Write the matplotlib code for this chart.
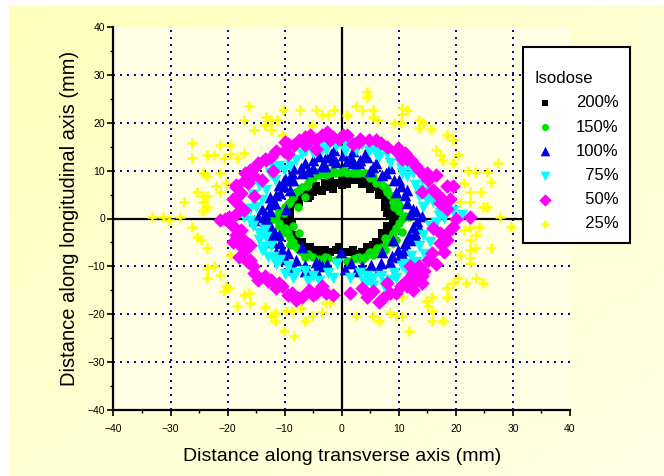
import numpy as np
import matplotlib.pyplot as plt
from matplotlib.ticker import MultipleLocator

plt.rcParams['font.family'] = ['Liberation Sans', 'DejaVu Sans']

# Isodose contour points (mm)
iso_200_x = [-1, 0, 1, 2, 3, 4, 5, -2, -3, -4, -5, -6, -7, -8, -9, -10, -10.5, -10, -9.5, -9,
             -8.5, -7.5, -6.5, -5, -4, -3, -2, -1, 0.5, 1.5, 2.5, 3.5, 4.5, 5.5, 6.5, 7, 8, 8.5,
             9, 9, 8.5, 8, 7.5, 7.5, 7, 6.5, 6, 5.5, 0, 3, -4.5, -6.5, -8.5, -9.5, -11, -10.5,
             -8, -6, -4, 0, 3, 5, 6, 8.5, 9.5, 9.5, 8, 8, 1.5, 2.5, 4, -2, -3,
             -6, -7.5, -9, -9.5, -9, -8, -7, -5.5, 6, 7, 8, 8, 7.5, 6.5, 5, 3.5, 1, -1.5,
             -3.5, -5.5, 2, 4.5, -0.5, -8.8, 8.8]
iso_200_y = [7.5, 8, 8.5, 8, 8, 7.5, 7, 7, 6.5, 6, 5.5, 5, 4.5, 3, 2, 1, 0, -1, -2, -3,
             -4, -5, -6, -6.5, -6.5, -6.5, -7, -6.5, -7, -7, -7.5, -7, -6.5, -5.5, -5, -4, -3, -2,
             -1, 0, 1, 2, 3, 4, 5, 6, 6.5, 7, 7, 8.5, 6.8, 5.8, 3.8, 1.5, 0.3, -1.5,
             -5, -7, -7.5, -7.5, -8, -7, -6, -3.5, -0.5, 0.8, 3.5, 5, 9, 8.8, 8.3, 8, 7.5,
             4.2, 3.5, 1, -0.5, -2, -3.5, -5, -6, -5, -3, -1.5, 1.2, 2.5, 5, 6.2, 7.2, 7.2, 6.2,
             5.8, 4.8, -6.5, -6, -6, -1, -2.5]

iso_150_x = [-5, -4, -3, -2, -1, 0, 1, 2, 3, 4, 5, 6, -6, -7, -8, -8.5, -9, -10, -11, -11.5,
             -12, -11, -10, -9.5, -9, -8.5, -8, -7, -6, -5, -4, -3, 2, 3, 4, 5, 6, 7, 8, 8.5,
             9, 9.5, 10, 10.5, 11, 10, 9.5, 9, 8.5, 8, 7, -7.5, -8.5, 7.5, 9.5, -6.5, -7.6,
             -10.2, -2.4, 2.5, 4.7, 6.2, 11.7, 9.1, 8, 6.2, 4.7, 2.5, -0.1, -2.7, -6.1,
             -4.5, -1.5, 0.5, 2.5, 4.5, 5.5, -5.5, -7.5, -9.5, -10.5, -11, -10.5, -9, -7.5,
             -6.5, -3.5, -1, 1, 3.5, 5.5, 7.5, 9, 10.5, 10, 9.5, 7.5]
iso_150_y = [8.5, 9, 9.5, 9.5, 9.5, 10, 9.5, 9.5, 9.5, 9.5, 8.5, 7.5, 7.5, 6.5, 5.5, 4.5, 3.5, 2.5, 1.5, 0.5,
             0, -1, -2, -3, -4, -5, -6, -7, -7.5, -8, -8.5, -8, -8.5, -8, -8, -7, -6.5, -6, -5, -4,
             -3, -2, -1, 0, 0.5, 1.5, 2.5, 3.5, 5, 6, 7, -3, -1.5, -4, -4.5, 4.5, 2.5,
             1.1, -8.3, -8.3, -7.2, -6.2, 0.4, 2.5, 5.6, 7.7, 8.8, 9.4, 9.8, 9.1, 6.7,
             9.8, 10, 10, 10.2, 9.3, 8.8, 8.5, 6, 3, 1.5, -1.5, -3, -5.5, -6.5,
             -8, -8.8, -8.6, -8.8, -8.6, -7.6, -6.6, -5.2, -2.8, 2.8, 4.2, 6.5]

iso_100_x = [0.2, -2.7, -5, -7.2, -8.7, -10.2, -10.9, -11.7, -14.6, -15.4, -12.4, -11.7, -10.9, -9.4,
             -8, -6.5, -4.6, -3.5, -0.1, 1.7, 3.6, 5.1, 6.9, 8.8, 9.9, 11, 11.7, 12.5, 13.2,
             11.4, 11, 10.3, 9.1, 7.7, 5.4, 3.2, 1.7, -1.3, -9, -6, 7, -7, -12.5, -13, -12,
             -3.5, 2, 12, 13, 10, -8.5, -11, 4.5, -1.5, 9.5, -9.8, 12.8, -4,
             -1, 1, 3, 5, 7, -3, -5, -7, -9, -10, -11.5, -12.5, -13.5, -13, -12.5, -11.5, -10,
             -8.5, -6.5, -4.5, -2.5, 0.5, 2.5, 4.5, 6.5, 8.5, 10.5, 12, 13.5, 14, 12.5, 11.5,
             10, 8.5, 6, 4, 2, -1.8, -4, -6.5, -8.5, -10, -11, -12.5, -14, -13.5, -10.5, 13,
             11, 9]
iso_100_y = [13.3, 12.9, 12.2, 10.5, 9.4, 6.7, 5.3, 3.2, 0.4, -0.3, -1.7, -3.1, -5.1, -7.2,
             -8.6, -9.7, -10.7, -10, -6.9, -9.3, -10, -9.7, -9.3, -7.9, -6.5, -5.1, -3.4, -1.7, -0.6,
             3.2, 4.9, 6.7, 8.1, 9.4, 10.8, 12.2, 12.9, 14.3, 6, 10, -7, -6, 1.5, -1, -5,
             11, 11.5, 1, 1.5, -8, 8, -3.5, 12.8, 12.3, 5.5, 2, -3, -9.5,
             11.8, 12, 11.5, 10, 9, 11, 10.5, 9.5, 8, 8, 5, 3, 1, -2.5, -4.5, -7, -8.5,
             -10.5, -11, -9, -9.5, -10.5, -11, -11.5, -10.5, -9, -7.5, -4.5, -2, 0.5, 2, 6,
             8, 10.5, 11.5, 13.5, 14, 13.5, 13, 11.5, 10.5, 8.5, 7, 4.5, 2, -0.5, -6.5, -4,
             -6.5, -4.5]

iso_75_x = [1, 2.5, -2.7, -5, -8, -10.2, -11.7, -13.2, -13.9, -17.2, -16.1, -13.5, -13.2, -12.4,
            -10.9, -9.4, -8, -6.5, -5, -2.4, 3.2, 3.9, 5.4, 6.9, 9.1, 10.6, 12.1, 13.6, 14.3,
            16.6, 18, 21, 14.3, 13.6, 12.9, 11.4, 10.3, 8.4, 6.5, 4.7, 15, 17.3, -15, -14.5,
            -12, -7, -3.5, 0.5, 6, 11, 13, 15.5, -9, -15.5, 4.5, 8.5, 12.5, -0.8,
            -1, -4, -6.5, -9, -11, -12.5, -14.5, -15.5, -16, -15.5, -14.5, -14, -13, -11.5,
            -10, -8.5, -6, -4, -1.5, 1.5, 4.5, 5.5, 7.5, 9.5, 11.5, 13, 14.5, 15.5, 16, 17,
            19.5, 16, 15.5, 14, 12.5, 11.5, 10, 8, 6, 3.5, 7.5, -13.5, -12, 2, 10.5, 13.5]
iso_75_y = [15, 14.3, 14.3, 13.6, 12.2, 10.1, 8.1, 6, 3.9, 0.4, -0.6, -2.4, -3.8, -5.8,
            -8.6, -10, -11.4, -11, -12.1, -11.4, -11.4, -13.5, -12.4, -12.1, -11.4, -10, -7.9, -5.8, -3.4,
            -1, 0.1, 0.8, 2.5, 4.6, 7, 8.8, 10.5, 11.5, 12.9, 14, 3.9, 1.1, 2.5, -3,
            -8, 13.5, 14.5, 14.2, 13.5, -9.5, -9, -1.5, 11, 5, -13, -12.8, 9.5, -9.5,
            15.2, 15, 14, 13, 11, 9.5, 7, 5, 2, -1.5, -4.5, -6.5, -8, -9.5,
            -11.5, -12.5, -13, -13, -12.5, -12.5, -12, -14, -13.5, -12.5, -11, -9.5, -7.5, -5, -2.5, 0.5,
            1.5, 3.5, 5.5, 8, 10, 11.5, 12.5, 13.5, 14.5, 15.5, -14.5, -6, 10.5, 15.8, 9.5, 6]

iso_50_x = [0.2, -0.5, -3.5, -4.6, -6.5, -8.3, -10.2, -12.4, -13.2, -14.6, -16.1, -16.9, -17.6,
            -18.4, -17.2, -19.8, -21.3, -17.6, -17.2, -16.9, -16.1, -15.4, -14.6, -12.4, -10.5,
            -8.7, -7.6, -5.7, -3.5, -2.7, 3.6, 5.4, 7.3, 8.4, 10.3, 11.4, 12.5, 13.6, 15.1, 15.8,
            17.3, 17.3, 19.5, 22.5, 17.3, 16.6, 18.4, 15.1, 13.6, 12.1, 11, 9.9, 6.9, 4.7, 3.2,
            19.5, 14, -15.4, -12, -14, -19, -18, -13, 12, 16, 14, -6, 2, -2, 18, -16, -9.5,
            -11, 10.5, 16.5, -18.5, 8, -5, 19, -4.5,
            -1.5, -2.5, -5.5, -7.5, -9.5, -11.5, -13.5, -15, -17, -18.5, -19, -18.5, -19, -18.5,
            -17.5, -16.5, -15.5, -13.5, -11.5, -9.5, -7, -4.5, -1.5, 1.5, 4.5, 6.5, 9.5, 11.5,
            13, 14.5, 16.5, 18, 18.5, 19, 20, 18.5, 17.5, 16, 14.5, 13, 11.5, 9.5, 8, 6, 3, 1,
            -16.5, -15.5, -20.5, -19.5, 12.5, 14, 15, -10, -6.5, -8]
iso_50_y = [17.4, 16.7, 17.4, 16.4, 15.3, 15.3, 14, 12.9, 12.2, 11.5, 10.1, 8.1, 5.3,
            3.2, 1.8, 0.4, -0.3, -2.4, -4.4, -6.5, -8.6, -11.4, -12.8, -12.8, -14.2,
            -15.6, -16.6, -14.9, -14.2, -15.6, -14.5, -15.2, -16.6, -15.6, -14.2, -12.8, -11.4, -10, -8.6, -7.2,
            -5.1, -3.1, -1.7, 0.4, 3.2, 5.3, 6.7, 8.1, 10.1, 12.2, 13.6, 14.7, 15.7, 16.4, 16.7,
            6.7, 5.6, 4.6, 10, 8, -5, -8, -13, -10, -2, -12, 16, 15.5, 16.5, -5, -5.5, 13.5,
            -13.5, 12.5, 9, 6.5, -13.5, -16, 4, 14.5,
            17, 18, 17.5, 16.5, 15.5, 14, 12.5, 11, 9.5, 7, 4, 1, -1.5, -3.5,
            -6, -9, -10, -12, -14.5, -16, -16.5, -15.5, -16, -15.5, -16.5, -17.5, -15.5, -14,
            -13, -11, -9.5, -7, -4.5, -2.5, 0, 2, 4, 6, 9, 11, 12.5, 14, 15, 16.5, 16, 17.5,
            7.5, 9, 0, -1, -15, -13.5, 9.5, 16, 17, -17]

iso_25_x = [-16.3, -10.3, -7.4, -4.6, -3.5, -2.4, -1.3, 1.0, 4.5, 4.5, 2.5, 3.6, 5.4, 5.4, 6.4,
            10.5, 11.4, 10.5, 9.1, 10.3, 13.6, 14.2, 13.6, 15.7, 18.4, 19.5, 16.6, 17.3, 17.7,
            19.5, 20.3, 22.1, 23.3, 25.5, 26.2, 27.3, 21.4, 19.9, 22.5, 24.4, 20.7, 22.5, 24.7,
            25.5, 27.7, 29.6, 22.5, 24.0, 21.4, 22.5, 23.6, 23.3, 22.5, 26.2, 20.7, 22.5, 22.5,
            20.3, 19.5, 21.8, 23.6, 24.7, 18.4, 18.4, 15.8, 14.7, 15.1, 15.8, 15.8, 17.7, 10.5,
            10.5, 9.5, 8.4, 11.7, 5.4, 6.5, 2.5, -2.0, -2.7, -3.5, -5.3, -6.5, -7.2, -8.7, -9.8,
            -11.7, -12.4, -11.7, -10.2, -8.3, -13.5, -16.3, -17.2, -16.1, -18.4, -19.8, -20.6,
            -20.2, -19.5, -22.4, -23.6, -21.3, -23.6, -23.6, -24.7, -25.4, -26.2, -28.4, -30.2,
            -31.4, -33.2, -27.6, -25.4, -24.3, -23.6, -24.3, -23.6, -24.3, -23.6, -24.3, -26.2,
            -26.2, -23.6, -22.4, -21.3, -22.1, -21.3, -20.2, -21.3, -19.5, -19.5, -20.6, -18.4,
            -17.2, -15.4, -17.2, -13.2, -12.4, -13.5, -12.4, -11.3, -10.5, -5.3]
iso_25_y = [23.5, 22.6, 22.6, 22.6, 21.6, 21.6, 22.6, 21.6, 26.5, 25.4, 23.5, 22.6, 22.6, 21.3, 20.6,
            23.0, 22.6, 21.9, 19.9, 19.9, 20.6, 19.9, 18.8, 18.6, 17.4, 16.4, 14.3, 13.3, 12.2,
            11.5, 13.3, 10.0, 9.8, 9.8, 7.7, 11.5, 7.5, 6.7, 5.6, 5.6, 3.5, 3.5, 2.5,
            2.5, 0.4, -1.7, -1.7, -1.7, -2.4, -4.4, -3.4, -6.2, -6.5, -6.2, -7.6, -9.3, -8.3,
            -12.4, -13.5, -13.5, -12.4, -13.5, -14.5, -16.3, -16.3, -17.3, -18.3, -19.4, -21.5, -21.5, -16.3,
            -20.4, -20.4, -19.7, -23.5, -20.4, -21.5, -20.4, -17.6, -17.6, -19.6, -20.4, -21.5, -18.7, -19.4, -19.4,
            -19.7, -20.4, -21.5, -23.5, -24.6, -18.5, -15.6, -15.9, -17.6, -18.3, -14.5, -15.2,
            -14.2, -7.6, -10.0, -10.3, -11.7, -12.4, -6.2, -4.4, -3.8, -1.7, 0.4, -0.3,
            0.4, 0.4, 3.5, 5.6, 4.6, 4.6, 3.5, 2.5, 1.5, 8.8, 9.4, 15.7,
            12.6, 13.3, 13.3, 9.4, 6.7, 5.6, 7.4, 15.3, 15.3, 13.5, 12.6, 12.6,
            13.6, 18.5, 20.6, 21.3, 20.6, 19.5, 18.5, 20.6, 17.4, 19.5]

grid_vals = [-30, -20, -10, 10, 20, 30]

fig = plt.figure(figsize=(6.64, 4.76), dpi=100, facecolor='white')

# yellow gradient backdrop
bg = fig.add_axes([9 / 664, 0, 1 - 9 / 664, 1 - 5 / 476], zorder=-10)
t = np.linspace(0, 1, 200)
g = (t[None, :] + t[:, None]) / 2
c0 = np.array([1.0, 1.0, 0.74])
c1 = np.array([1.0, 1.0, 0.90])
bg.imshow(c0 + (c1 - c0) * g[..., None], aspect='auto', extent=[0, 1, 0, 1])
bg.axis('off')

ax = fig.add_axes([113.5 / 664, 1 - 410 / 476, 456.5 / 664, 383 / 476])
ax.set_facecolor('#FFFFE6')

for v in grid_vals:
    ax.axvline(v, color='#00007F', lw=1.4, ls=(0, (1, 2.6)), zorder=1)
    ax.axhline(v, color='#00007F', lw=1.4, ls=(0, (1, 2.6)), zorder=1)
ax.axvline(0, color='black', lw=1.6, zorder=1.5)
ax.axhline(0, color='black', lw=1.6, zorder=1.5)

ax.scatter(iso_200_x, iso_200_y, marker='s', s=28, color='black', lw=0, label='200%', zorder=3)
ax.scatter(iso_150_x, iso_150_y, marker='o', s=38, color='#00E000', lw=0, label='150%', zorder=4)
ax.scatter(iso_100_x, iso_100_y, marker='^', s=70, color='#0000E6', lw=0, label='100%', zorder=5)
ax.scatter(iso_75_x, iso_75_y, marker='v', s=70, color='#00FFFF', lw=0, label='  75%', zorder=6)
ax.scatter(iso_50_x, iso_50_y, marker='D', s=55, color='#FF00FF', lw=0, label='  50%', zorder=7)
ax.scatter(iso_25_x, iso_25_y, marker='+', s=45, color='#FFFF00', lw=1.8, label='  25%', zorder=2)

ax.set_xlim(-40, 40)
ax.set_ylim(-40, 40)
ax.set_xticks(range(-40, 41, 10))
ax.set_yticks(range(-40, 41, 10))
ax.xaxis.set_minor_locator(MultipleLocator(5))
ax.yaxis.set_minor_locator(MultipleLocator(5))
ax.tick_params(which='major', direction='out', length=4, width=1.2, labelsize=7.5, pad=2)
ax.tick_params(axis='x', which='major', pad=6)
ax.tick_params(which='minor', direction='out', length=2, width=1)
for s in ['top', 'right']:
    ax.spines[s].set_visible(False)
for s in ['left', 'bottom']:
    ax.spines[s].set_linewidth(1.6)

ax.set_xlabel('Distance along transverse axis (mm)', fontsize=14, labelpad=10)
ax.set_ylabel('Distance along longitudinal axis (mm)', fontsize=14.5, labelpad=6)

leg = ax.legend(title='\nIsodose', loc='upper left',
                bbox_to_anchor=(523 / 664, 1 - 47 / 476), bbox_transform=fig.transFigure,
                fontsize=12, title_fontsize=12, alignment='left',
                frameon=True, fancybox=False, framealpha=1, edgecolor='black',
                scatterpoints=1, handletextpad=1.22, labelspacing=0.55,
                borderpad=0.7, borderaxespad=0, handlelength=1.25)
leg.get_title().set_linespacing(0.8)
leg.get_frame().set_linewidth(1.5)
leg.set_zorder(20)
for h, sz in zip(leg.legend_handles, [18, 26, 48, 48, 40, 30]):
    h.set_sizes([sz])

fig.savefig('out.png', dpi=100, facecolor=fig.get_facecolor())
